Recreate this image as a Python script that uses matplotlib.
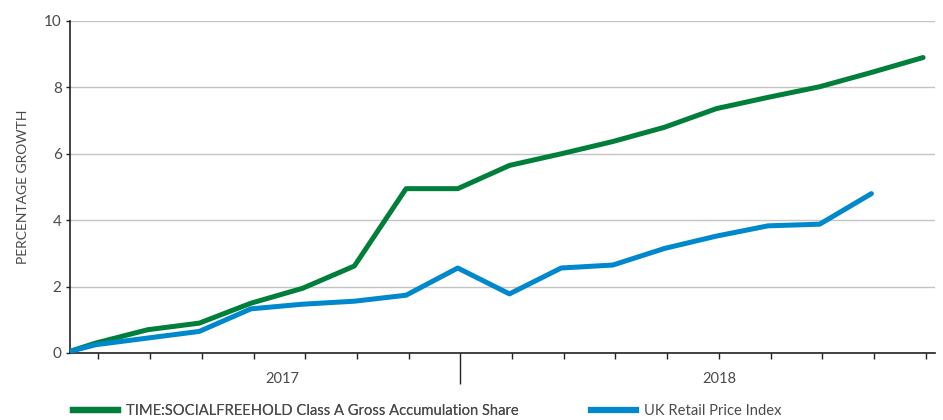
import matplotlib
matplotlib.use("Agg")
import matplotlib.pyplot as plt
from matplotlib.lines import Line2D
from matplotlib.ticker import FixedLocator

plt.rcParams['font.family'] = ['Lato', 'DejaVu Sans']

# month positions (0 = start, then month midpoints)
months = [0, 0.5, 1.5, 2.5, 3.5, 4.5, 5.5, 6.5, 7.5, 8.5, 9.5, 10.5, 11.5, 12.5, 13.5, 14.5, 15.5, 16.5]
fund = [0.05, 0.3, 0.7, 0.9, 1.5, 1.95, 2.62, 4.95, 4.95, 5.65, 6.0, 6.37, 6.8, 7.36, 7.7, 8.02, 8.45, 8.9]
rpi = [0.05, 0.25, 0.45, 0.65, 1.33, 1.47, 1.56, 1.74, 2.56, 1.78, 2.56, 2.65, 3.15, 3.52, 3.83, 3.88, 4.8]

month_ticks = [k + 0.55 for k in range(17)]
year_split = 7.55
year_labels = ['2017', '2018']
year_pos = [4.1, 12.55]

green = '#007f3b'
blue = '#0088cc'
txt = '#4a4a4a'

fig = plt.figure(figsize=(9.43, 4.2), dpi=100)
ax = fig.add_axes([70 / 943, 1 - 353 / 420, 865 / 943, 332 / 420])

ax.plot(months, fund, color=green, lw=3.6, solid_capstyle='round', zorder=3)
ax.plot(months[:len(rpi)], rpi, color=blue, lw=3.6, solid_capstyle='round', zorder=3)

ax.set_xlim(0, 16.73)
ax.set_ylim(0, 10)
ax.set_yticks([0, 2, 4, 6, 8, 10])
ax.yaxis.grid(True, color='#c4c4c4', lw=1)
ax.set_axisbelow(True)

for s in ['top', 'right']:
    ax.spines[s].set_visible(False)
for s in ['left', 'bottom']:
    ax.spines[s].set_color('#222222')
    ax.spines[s].set_linewidth(1.2)

ax.xaxis.set_major_locator(FixedLocator([year_split]))
ax.xaxis.set_minor_locator(FixedLocator([t for t in month_ticks if abs(t - year_split) > 0.01]))
ax.tick_params(axis='x', which='major', length=22, width=1, color='#222222', labelbottom=False)
ax.tick_params(axis='x', which='minor', length=4, width=1, color='#222222')
ax.tick_params(axis='y', length=3, width=1, color='#222222', labelsize=11, labelcolor=txt, pad=3)

for lab, p in zip(year_labels, year_pos):
    ax.text(p, -0.78, lab, ha='center', va='center', fontsize=10.5, color=txt)

ax.set_ylabel('PERCENTAGE GROWTH', fontsize=10, color=txt, labelpad=11)

h1 = Line2D([], [], color=green, lw=4.5)
h2 = Line2D([], [], color=blue, lw=4.5)
leg_kw = dict(loc='center left', frameon=False, handlelength=3.05, handletextpad=0.55,
              borderaxespad=0, borderpad=0, prop={'size': 10.6})
leg1 = fig.legend([h1], ['TIME:SOCIALFREEHOLD Class A Gross Accumulation Share'],
                  bbox_to_anchor=(73 / 943, 1 - 411 / 420), **leg_kw)
leg2 = fig.legend([h2], ['UK Retail Price Index'],
                  bbox_to_anchor=(591 / 943, 1 - 411 / 420), **leg_kw)
for leg in (leg1, leg2):
    for t in leg.get_texts():
        t.set_color(txt)
fig.add_artist(leg1)

fig.savefig('out.png', dpi=100)
